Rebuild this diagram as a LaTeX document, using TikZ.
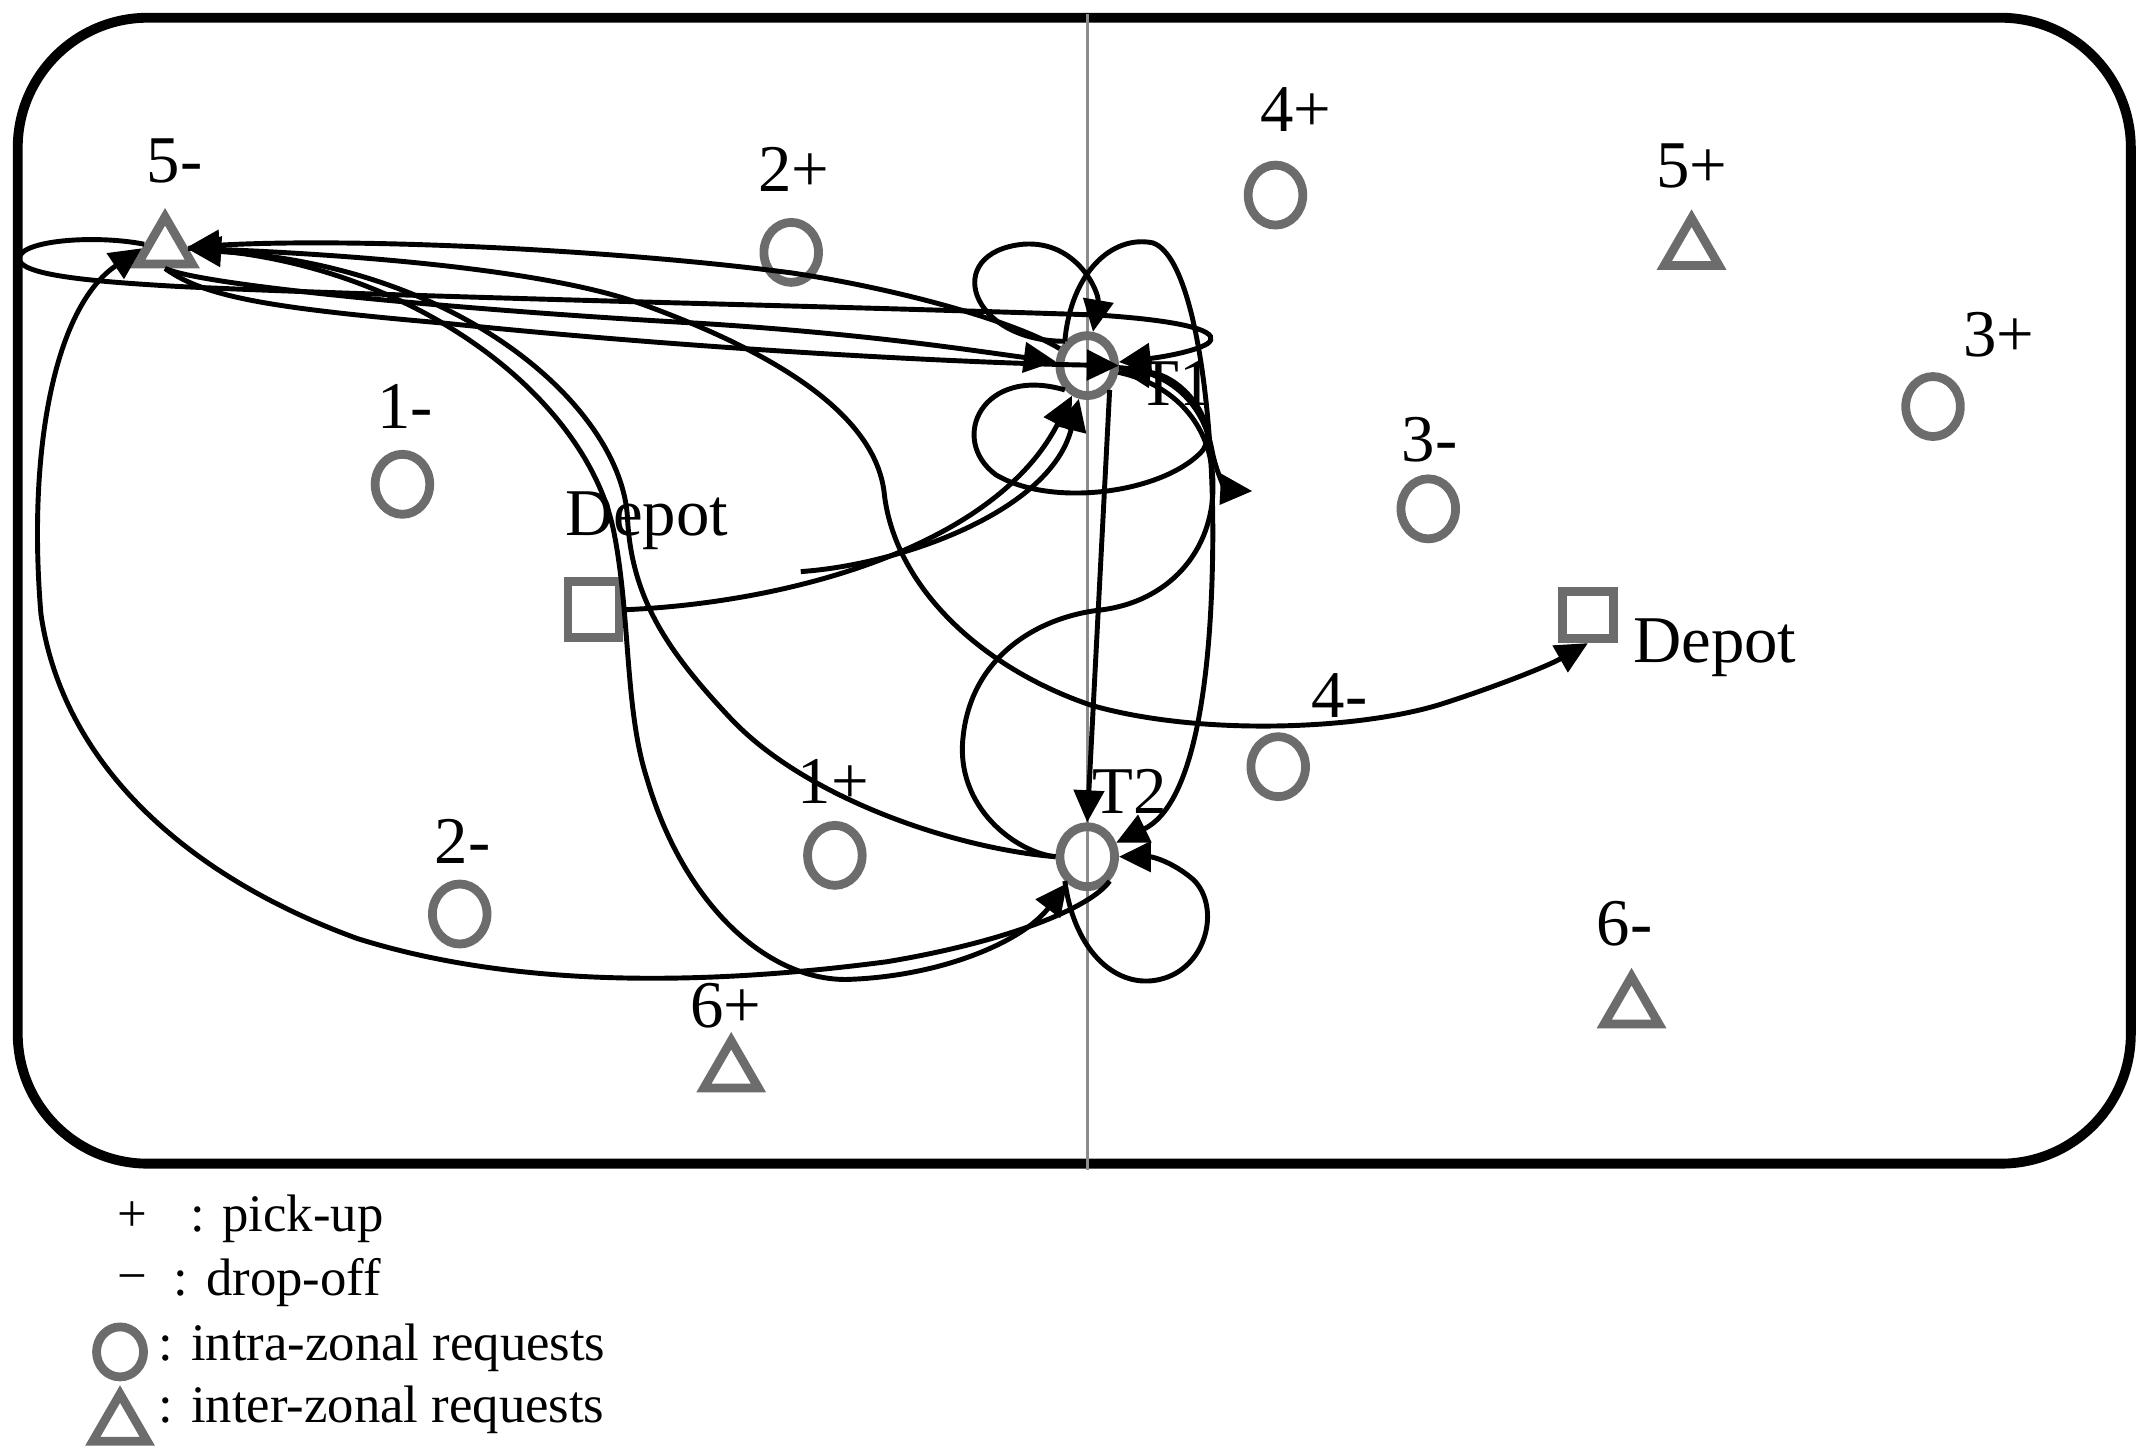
\documentclass[tikz,border=0pt]{standalone}
\usepackage{fontspec}
\setmainfont{Liberation Serif}
\usetikzlibrary{shapes.geometric,arrows.meta}
\definecolor{symgray}{RGB}{108,108,108}
\definecolor{divgray}{RGB}{140,140,140}
\newcommand{\lblfont}{\fontsize{19pt}{22pt}\selectfont}
\newcommand{\legfont}{\fontsize{15pt}{18pt}\selectfont}
\tikzset{
  sym/.style={draw=symgray, line width=2.5pt, inner sep=0pt, fill=none},
  circ/.style={sym, ellipse, minimum width=0.546cm, minimum height=0.6cm},
  tri/.style={sym, regular polygon, regular polygon sides=3, minimum size=0.63cm, line join=miter},
  sqrL/.style={sym, rectangle, minimum width=0.51cm, minimum height=0.56cm},
  sqrR/.style={sym, rectangle, minimum width=0.51cm, minimum height=0.47cm},
  lbl/.style={font=\lblfont, inner sep=0pt, text=black},
  leg/.style={font=\legfont, inner sep=0pt, text=black},
  route/.style={line width=1.4pt, black},
  arr/.style={route, -{Triangle[length=3.2mm,width=3mm]}},
}
\begin{document}
\begin{tikzpicture}[x=0.01364cm, y=-0.01364cm]
\useasboundingbox (0,0) rectangle (1568,1062);
\fill[white] (0,0) rectangle (1568,1062);
% frame and divider
\draw[line width=2.8pt, rounded corners=1.3cm] (13,13) rectangle (1562,853);
\draw[divgray, line width=0.9pt] (797,10) -- (797,858);
% symbols
\node[tri]  (m5) at (121,182) {};
\node[circ] (p2) at (580,185) {};
\node[circ] (p4) at (935,143) {};
\node[tri]  (p5) at (1240,183) {};
\node[circ] (p3) at (1417,298) {};
\node[circ] (T1) at (797,268) {};
\node[circ] (m1) at (295,355) {};
\node[circ] (m3) at (1047,373) {};
\node[sqrL] (dL) at (435,447) {};
\node[sqrR] (dR) at (1164,451) {};
\node[circ] (m4) at (937,562) {};
\node[circ] (p1) at (612,627) {};
\node[circ] (T2) at (797,628) {};
\node[circ] (m2) at (337,670) {};
\node[tri]  (p6) at (536,786) {};
\node[tri]  (m6) at (1196,739) {};
% labels
\node[lbl] (l5m) at (128,118) {5-};
\node[lbl] (l2p) at (582,124) {2+};
\node[lbl] (l4p) at (950,80) {4+};
\node[lbl] (l5p) at (1240,122) {5+};
\node[lbl] (l3p) at (1465,245) {3+};
\node[lbl] (l1m) at (297,298) {1-};
\node[lbl] (l3m) at (1048,322) {3-};
\node[lbl] (ldL) at (474,382) {Depot};
\node[lbl] (ldR) at (1257,475) {Depot};
\node[lbl] (l4m) at (982,510) {4-};
\node[lbl] (l1p) at (611,573) {1+};
\node[lbl] (lT2) at (828,580) {T2};
\node[lbl] (l2m) at (339,617) {2-};
\node[lbl] (l6p) at (532,737) {6+};
\node[lbl] (l6m) at (1191,677) {6-};
\node[lbl] (lT1) at (862,281) {T1};
% free ends
\coordinate (s1) at (587,419);
\coordinate (f1) at (918,360);
% routes
\draw[arr] (T1) .. controls (745,236) and (660,212) .. (580,200) .. controls (450,183) and (260,174) .. (m5);
\draw[arr] (m5) .. controls (70,172) and (16,176) .. (14,189) .. controls (13,201) and (60,206) .. (131,210) .. controls (300,218) and (600,224) .. (806,231) .. controls (880,236) and (895,245) .. (885,252) .. controls (875,258) and (850,262) .. (T1);
\draw[arr] (m5.south) .. controls (150,210) and (350,228) .. (513,237) .. controls (640,245) and (720,258) .. (T1);
\draw[arr] (m5.south) .. controls (150,218) and (200,226) .. (327,237) .. controls (500,255) and (700,266) .. (T1.east);
\draw[arr] (m5.east) .. controls (260,186) and (400,198) .. (468,222) .. controls (560,255) and (640,300) .. (648,360) .. controls (655,430) and (720,490) .. (800,517) .. controls (880,540) and (1000,535) .. (1060,515) .. controls (1100,502) and (1135,488) .. (dR.south);
\draw[arr] (m5.east) .. controls (300,190) and (430,290) .. (450,390) .. controls (462,450) and (458,520) .. (474,570) .. controls (500,660) and (560,718) .. (620,718) .. controls (690,716) and (750,690) .. (T2);
\draw[arr] (T2.west) .. controls (700,622) and (590,585) .. (535,526) .. controls (491,479) and (463,440) .. (460,380) .. controls (456,300) and (340,195) .. (m5);
\draw[arr] (dL.east) .. controls (580,442) and (730,400) .. (T1);
\draw[arr] (s1) .. controls (660,414) and (770,375) .. (T1);
\draw[arr] (T1.south east) -- (T2.north);
\draw[arr] (T1.north west) .. controls (710,250) and (690,185) .. (750,179) .. controls (790,176) and (806,215) .. (T1);
\draw[arr] (T1.north west) .. controls (785,200) and (815,172) .. (845,178) .. controls (875,188) and (890,300) .. (889,400) .. controls (888,500) and (875,590) .. (T2);
\draw[arr] (T1.south west) .. controls (720,268) and (695,322) .. (730,348) .. controls (770,372) and (850,362) .. (880,332) .. controls (896,316) and (870,276) .. (T1);
\draw[arr] (T1) .. controls (860,272) and (882,298) .. (888,328) .. controls (892,350) and (900,359) .. (f1);
\draw[route] (T2.west) .. controls (745,625) and (700,592) .. (706,540) .. controls (712,482) and (760,452) .. (808,447) .. controls (860,440) and (892,400) .. (889,350) .. controls (887,312) and (862,282) .. (T1);
\draw[arr] (T2.south east) .. controls (800,665) and (740,690) .. (650,705) .. controls (520,722) and (380,725) .. (262,688) .. controls (130,640) and (45,555) .. (30,450) .. controls (20,330) and (40,225) .. (m5.west);
\draw[arr] (T2.south west) .. controls (788,700) and (820,725) .. (850,718) .. controls (885,710) and (895,665) .. (875,645) .. controls (860,632) and (845,628) .. (T2);
% legend
\node[leg, anchor=base] (lgp) at (97,903) {+};
\node[leg, anchor=base west] (lgpt) at (139,903) {: pick-up};
\node[leg, anchor=base] (lgm) at (97,948) {−};
\node[leg, anchor=base west] (lgmt) at (127,950) {: drop-off};
\node[sym, ellipse, minimum width=0.47cm, minimum height=0.5cm] (lgc) at (88,991) {};
\node[leg, anchor=base west] (lgct) at (116,997) {: intra-zonal requests};
\node[tri] (lgt) at (88,1045) {};
\node[leg, anchor=base west] (lgtt) at (116,1043) {: inter-zonal requests};
\end{tikzpicture}
\end{document}
